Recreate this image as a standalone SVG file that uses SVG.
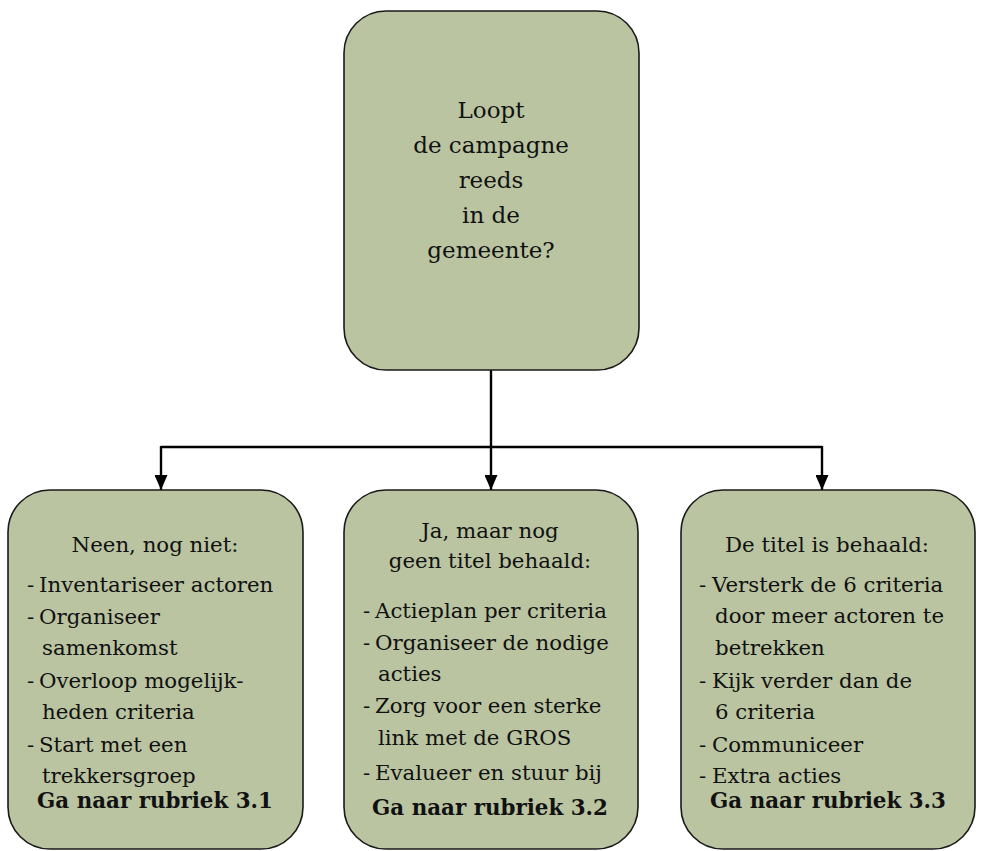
<svg xmlns="http://www.w3.org/2000/svg" width="981" height="851" viewBox="0 0 981 851">
<style>
.box{fill:#bac4a1;stroke:#1a1a1a;stroke-width:1.6}
.t{font-family:"DejaVu Serif","Liberation Serif",serif;font-size:21.3px;fill:#111}
.c{text-anchor:middle}
.top{font-size:23px}
.b{font-weight:bold;font-size:21.4px}
.conn{fill:none;stroke:#000;stroke-width:2.4}
</style>
<defs>
<marker id="arr" markerWidth="13" markerHeight="15" refX="6.5" refY="15" orient="0" markerUnits="userSpaceOnUse">
<path d="M0,0 L13,0 L6.5,15 Z" fill="#000"/>
</marker>
</defs>
<g id="connectors">
<path class="conn" d="M491,370 V447"/>
<path class="conn" d="M161,447 H822"/>
<path class="conn" d="M161,446 V490" marker-end="url(#arr)"/>
<path class="conn" d="M491,447 V490" marker-end="url(#arr)"/>
<path class="conn" d="M822,446 V490" marker-end="url(#arr)"/>
</g>
<g id="node-question">
<rect class="box" x="344" y="11" width="295" height="359" rx="42"/>
<text class="t c top" x="491" y="118">Loopt</text>
<text class="t c top" x="491" y="153">de campagne</text>
<text class="t c top" x="491" y="188">reeds</text>
<text class="t c top" x="491" y="223">in de</text>
<text class="t c top" x="491" y="258">gemeente?</text>
</g>
<g id="node-neen">
<rect class="box" x="8" y="490" width="295" height="359" rx="42"/>
<text class="t c" x="155" y="552">Neen, nog niet:</text>
<text class="t" x="27" y="592">-</text><text class="t" x="39" y="592">Inventariseer actoren</text>
<text class="t" x="27" y="624">-</text><text class="t" x="39" y="624">Organiseer</text>
<text class="t" x="42" y="655">samenkomst</text>
<text class="t" x="27" y="688">-</text><text class="t" x="39" y="688">Overloop mogelijk-</text>
<text class="t" x="42" y="719">heden criteria</text>
<text class="t" x="27" y="752">-</text><text class="t" x="39" y="752">Start met een</text>
<text class="t" x="42" y="783">trekkersgroep</text>
<text class="t b c" x="155" y="808">Ga naar rubriek 3.1</text>
</g>
<g id="node-ja">
<rect class="box" x="344" y="490" width="294" height="359" rx="42"/>
<text class="t c" x="490" y="538">Ja, maar nog</text>
<text class="t c" x="490" y="568">geen titel behaald:</text>
<text class="t" x="363" y="618">-</text><text class="t" x="375" y="618">Actieplan per criteria</text>
<text class="t" x="363" y="650">-</text><text class="t" x="375" y="650">Organiseer de nodige</text>
<text class="t" x="378" y="681">acties</text>
<text class="t" x="363" y="713">-</text><text class="t" x="375" y="713">Zorg voor een sterke</text>
<text class="t" x="378" y="745">link met de GROS</text>
<text class="t" x="363" y="780">-</text><text class="t" x="375" y="780">Evalueer en stuur bij</text>
<text class="t b c" x="490" y="815">Ga naar rubriek 3.2</text>
</g>
<g id="node-titel">
<rect class="box" x="681" y="490" width="294" height="359" rx="42"/>
<text class="t c" x="827" y="552">De titel is behaald:</text>
<text class="t" x="699" y="592">-</text><text class="t" x="712" y="592">Versterk de 6 criteria</text>
<text class="t" x="715" y="623">door meer actoren te</text>
<text class="t" x="715" y="655">betrekken</text>
<text class="t" x="699" y="688">-</text><text class="t" x="712" y="688">Kijk verder dan de</text>
<text class="t" x="715" y="719">6 criteria</text>
<text class="t" x="699" y="752">-</text><text class="t" x="712" y="752">Communiceer</text>
<text class="t" x="699" y="783">-</text><text class="t" x="712" y="783">Extra acties</text>
<text class="t b c" x="828" y="808">Ga naar rubriek 3.3</text>
</g>
</svg>
